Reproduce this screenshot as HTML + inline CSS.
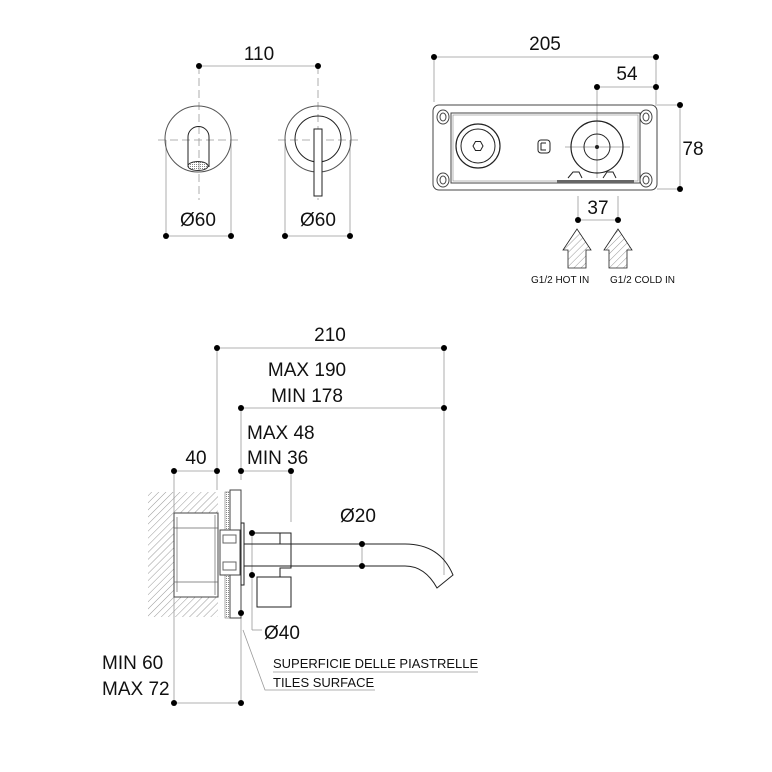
<!DOCTYPE html>
<html><head><meta charset="utf-8"><style>
html,body{margin:0;padding:0;background:#fff}
svg{display:block}
text{font-family:"Liberation Sans",sans-serif;fill:#111}
</style></head><body>
<svg width="772" height="772" viewBox="0 0 772 772" xmlns="http://www.w3.org/2000/svg">
<defs>
<pattern id="h" width="5" height="5" patternUnits="userSpaceOnUse" patternTransform="rotate(45)">
<line x1="0" y1="0" x2="0" y2="5" stroke="#999" stroke-width="1"/></pattern>
<pattern id="d" width="2" height="2" patternUnits="userSpaceOnUse"><rect width="1" height="1" fill="#888"/></pattern>
</defs>
<g fill="none" stroke="#222" stroke-width="1">
<g stroke="#999" stroke-width="0.8">
<line x1="199" y1="66" x2="318" y2="66"/>
<line x1="199" y1="66" x2="199" y2="200" stroke-dasharray="8,4"/>
<line x1="318" y1="66" x2="318" y2="200" stroke-dasharray="8,4"/>
<line x1="158" y1="140" x2="240" y2="140" stroke-dasharray="8,4"/>
<line x1="278" y1="140" x2="360" y2="140" stroke-dasharray="8,4"/>
<line x1="166" y1="140" x2="166" y2="236"/><line x1="231" y1="140" x2="231" y2="236"/>
<line x1="285" y1="140" x2="285" y2="236"/><line x1="350" y1="140" x2="350" y2="236"/>
<line x1="166" y1="236" x2="231" y2="236"/><line x1="285" y1="236" x2="350" y2="236"/>
</g>
<circle cx="198" cy="139" r="33" stroke="#555"/>
<circle cx="318" cy="139" r="33" stroke="#555"/>
<path d="M188 167 V137 A10.5 10.5 0 0 1 209 137 V167"/>
<ellipse cx="198" cy="166" rx="10" ry="4.5" fill="url(#d)" stroke="#333"/>
<circle cx="318" cy="139" r="23"/>
<rect x="314" y="129" width="8" height="67" fill="#fff"/>
<g stroke="#999" stroke-width="0.8">
<line x1="434" y1="57" x2="656" y2="57"/><line x1="434" y1="57" x2="434" y2="102"/>
<line x1="656" y1="57" x2="656" y2="106"/>
<line x1="597" y1="87" x2="656" y2="87"/><line x1="597" y1="87" x2="597" y2="120"/>
<line x1="680" y1="105" x2="680" y2="189"/><line x1="657" y1="105" x2="680" y2="105"/><line x1="657" y1="189" x2="680" y2="189"/>
<line x1="578" y1="220" x2="618" y2="220"/><line x1="578" y1="196" x2="578" y2="220"/><line x1="618" y1="196" x2="618" y2="220"/>
<line x1="565" y1="147" x2="630" y2="147"/><line x1="597" y1="118" x2="597" y2="178"/>
</g>
<rect x="433" y="105" width="224" height="85" rx="6" stroke="#444"/>
<rect x="451" y="113" width="189" height="70" stroke="#444"/>
<rect x="453" y="115" width="185" height="66" stroke="#888" stroke-width="0.6"/>
<g stroke="#444"><ellipse cx="443" cy="117" rx="6" ry="7"/><ellipse cx="646" cy="117" rx="6" ry="7"/>
<ellipse cx="443" cy="180" rx="6" ry="7"/><ellipse cx="646" cy="180" rx="6" ry="7"/>
<ellipse cx="443" cy="117" rx="3" ry="4"/><ellipse cx="646" cy="117" rx="3" ry="4"/>
<ellipse cx="443" cy="180" rx="3" ry="4"/><ellipse cx="646" cy="180" rx="3" ry="4"/></g>
<circle cx="478" cy="146" r="22" stroke-width="1.2"/>
<circle cx="478" cy="146" r="17"/>
<polygon points="473,146 475.5,141.5 480.5,141.5 483,146 480.5,150.5 475.5,150.5"/>
<circle cx="597" cy="147" r="26" stroke-width="1.2"/>
<circle cx="597" cy="147" r="13"/>
<circle cx="597" cy="147" r="1.5" fill="#222"/>
<rect x="538" y="140" width="12" height="13" rx="3"/>
<path d="M541 143 h5 M541 143 v7 h5"/>
<path d="M568 178 l5 -6 h6 l3 6 M603 178 l4 -6 h6 l3 6"/>
<rect x="557" y="180" width="77" height="3" fill="#666" stroke="none"/>
<path d="M568 268 V250 H563 L577 229 L591 250 H586 V268 Z" fill="url(#h)" stroke-width="0.8"/>
<path d="M609 268 V250 H604 L618 229 L632 250 H627 V268 Z" fill="url(#h)" stroke-width="0.8"/>
<g stroke="#999" stroke-width="0.8">
<line x1="217" y1="348" x2="444" y2="348"/><line x1="217" y1="348" x2="217" y2="490"/>
<line x1="444" y1="348" x2="444" y2="575"/>
<line x1="241" y1="408" x2="444" y2="408"/><line x1="241" y1="408" x2="241" y2="480"/>
<line x1="174" y1="471" x2="217" y2="471"/><line x1="174" y1="471" x2="174" y2="703"/>
<line x1="241" y1="471" x2="291" y2="471"/><line x1="291" y1="471" x2="291" y2="522"/>
<line x1="174" y1="703" x2="241" y2="703"/><line x1="241" y1="618" x2="241" y2="703"/>
<line x1="362" y1="544" x2="362" y2="566"/>
<line x1="252" y1="533" x2="252" y2="630"/><line x1="252" y1="630" x2="262" y2="630"/>
<path d="M243 630 L265 690 H375"/>
<line x1="273" y1="672" x2="478" y2="672"/>
</g>
<path d="M148 492 H218 V513 H174 V597 H218 V617 H148 Z" fill="url(#h)" stroke="none"/>
<rect x="225" y="492" width="5" height="126" fill="url(#d)" stroke="#777" stroke-width="0.6"/>
<rect x="230" y="490" width="11" height="128" stroke="#444"/>
<rect x="174" y="513" width="44" height="84" stroke="#444" fill="#fff"/>
<g stroke="#666" stroke-width="0.7"><line x1="177" y1="517" x2="177" y2="592"/><line x1="174" y1="528" x2="218" y2="528"/><line x1="174" y1="582" x2="218" y2="582"/><line x1="215" y1="515" x2="215" y2="595"/></g>
<rect x="220" y="530" width="20" height="45" fill="#fff" stroke="#444"/>
<rect x="223" y="535" width="13" height="8" stroke="#666"/><rect x="223" y="562" width="13" height="8" stroke="#666"/>
<rect x="241" y="523" width="3" height="62" fill="#fff"/>
<path d="M251 533 H291 V568 H280 V577 M280 533 V544"/>
<rect x="257" y="577" width="34" height="30" fill="#fff"/>
<path d="M244 544 H405 Q440 544 453 575 L437 588 Q425 566 405 566 H244"/>
</g>
<g fill="#000">
<circle cx="199" cy="66" r="3"/><circle cx="318" cy="66" r="3"/>
<circle cx="166" cy="236" r="3"/><circle cx="231" cy="236" r="3"/><circle cx="285" cy="236" r="3"/><circle cx="350" cy="236" r="3"/>
<circle cx="434" cy="57" r="3"/><circle cx="656" cy="57" r="3"/><circle cx="597" cy="87" r="3"/><circle cx="656" cy="87" r="3"/>
<circle cx="680" cy="105" r="3"/><circle cx="680" cy="189" r="3"/><circle cx="578" cy="220" r="3"/><circle cx="618" cy="220" r="3"/>
<circle cx="217" cy="348" r="3"/><circle cx="444" cy="348" r="3"/><circle cx="241" cy="408" r="3"/><circle cx="444" cy="408" r="3"/>
<circle cx="174" cy="471" r="3"/><circle cx="217" cy="471" r="3"/><circle cx="241" cy="471" r="3"/><circle cx="291" cy="471" r="3"/>
<circle cx="362" cy="544" r="3"/><circle cx="362" cy="566" r="3"/><circle cx="252" cy="533" r="3"/><circle cx="252" cy="575" r="3"/>
<circle cx="241" cy="613" r="3"/><circle cx="174" cy="703" r="3"/><circle cx="241" cy="703" r="3"/>
</g>
<g font-size="19">
<text x="259" y="60" text-anchor="middle">110</text>
<text x="198" y="226" text-anchor="middle">Ø60</text>
<text x="318" y="226" text-anchor="middle">Ø60</text>
<text x="545" y="50" text-anchor="middle">205</text>
<text x="627" y="80" text-anchor="middle">54</text>
<text x="693" y="155" text-anchor="middle">78</text>
<text x="598" y="214" text-anchor="middle">37</text>
<text x="330" y="341" text-anchor="middle">210</text>
<text x="307" y="376" text-anchor="middle">MAX 190</text>
<text x="307" y="402" text-anchor="middle">MIN 178</text>
<text x="196" y="464" text-anchor="middle">40</text>
<text x="247" y="439">MAX 48</text>
<text x="247" y="464">MIN 36</text>
<text x="340" y="522">Ø20</text>
<text x="264" y="639">Ø40</text>
<text x="102" y="669">MIN 60</text>
<text x="102" y="695">MAX 72</text>
</g>
<g font-size="10">
<text x="531" y="283">G1/2 HOT IN</text>
<text x="610" y="283">G1/2 COLD IN</text>
</g>
<g font-size="13">
<text x="273" y="668">SUPERFICIE DELLE PIASTRELLE</text>
<text x="273" y="687">TILES SURFACE</text>
</g>
</svg>
</body></html>
